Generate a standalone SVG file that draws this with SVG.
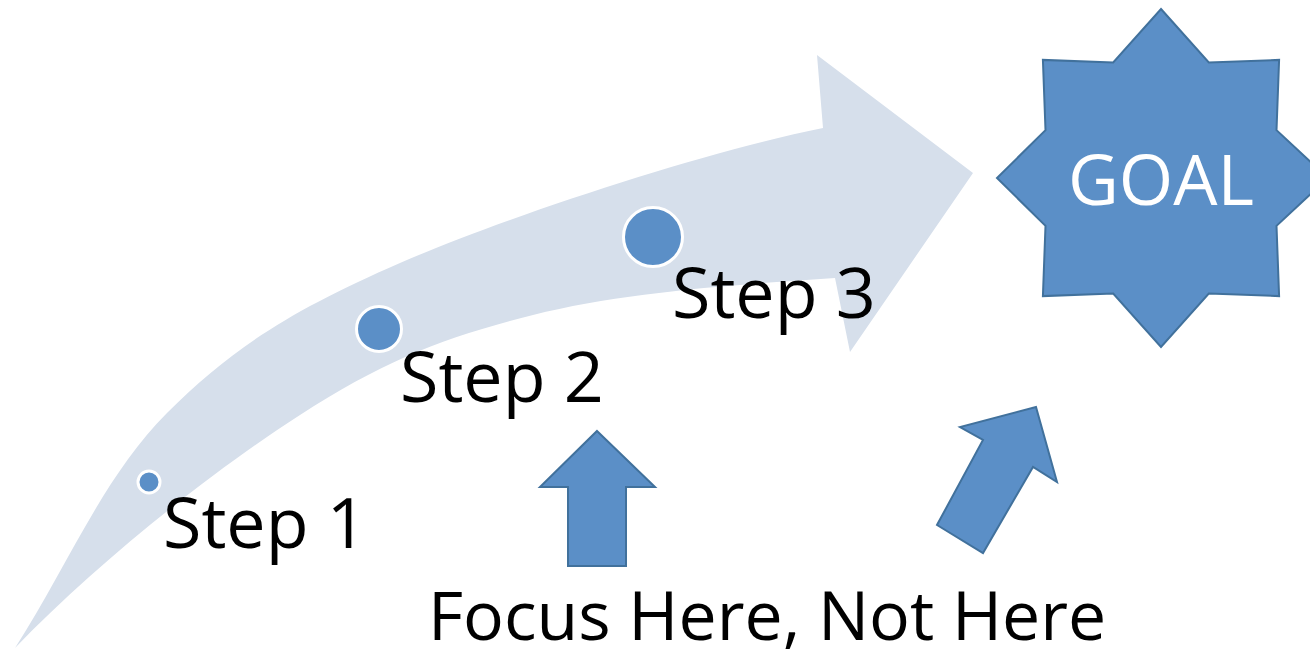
<svg xmlns="http://www.w3.org/2000/svg" width="1310" height="659" viewBox="0 0 1310 659">
<style>
.lbl{font-family:"Open Sans","Liberation Sans",sans-serif;font-size:70px;fill:#000}
.blue{fill:#5b8fc7;stroke:#41719c;stroke-width:2;stroke-linejoin:miter}
.dot{fill:#5b8fc7;stroke:#ffffff;stroke-width:3}
</style>
<rect width="1310" height="659" fill="#ffffff"/>
<g id="connectors">
<path id="big-arrow" fill="#d6dfeb" d="M15,648 C65.7,569.7 102.8,477.2 167,413 C231.2,348.8 290.7,310.5 400,263 C509.3,215.5 706.3,151.3 823,128 L817,55 L973,173 L850,352 L835,278 C735,284.7 622.2,292.2 533,315 C443.8,337.8 386.3,359.5 300,415 C213.7,470.5 98.3,561.3 15,648 Z"/>
<path id="up-arrow" class="blue" d="M597,431 L655,487 L626,487 L626,566 L568,566 L568,487 L540,487 Z"/>
<path id="diag-arrow" class="blue" d="M1036,407 L1057,482 L1033,467 L983,553 L937,525 L983,440 L960,427 Z"/>
</g>
<g id="goal">
<polygon class="blue" points="1161,9 1208.8,62.5 1279.1,59.9 1276.5,130.2 1328,178 1276.5,225.8 1279.1,296.1 1208.8,293.5 1161,347 1113.2,293.5 1042.9,296.1 1045.5,225.8 997,178 1045.5,130.2 1042.9,59.9 1113.2,62.5"/>
<text class="lbl" x="1161" y="205" text-anchor="middle" style="fill:#ffffff">GOAL</text>
</g>
<g id="step1">
<circle class="dot" cx="149" cy="482" r="11"/>
<text class="lbl" x="163" y="548">Step 1</text>
</g>
<g id="step2">
<circle class="dot" cx="379" cy="329" r="22.5"/>
<text class="lbl" x="400" y="402">Step 2</text>
</g>
<g id="step3">
<circle class="dot" cx="653" cy="237" r="29.5"/>
<text class="lbl" x="672" y="318">Step 3</text>
</g>
<g id="focus">
<text class="lbl" x="428" y="640" style="font-size:68px">Focus Here, Not Here</text>
</g>
</svg>
